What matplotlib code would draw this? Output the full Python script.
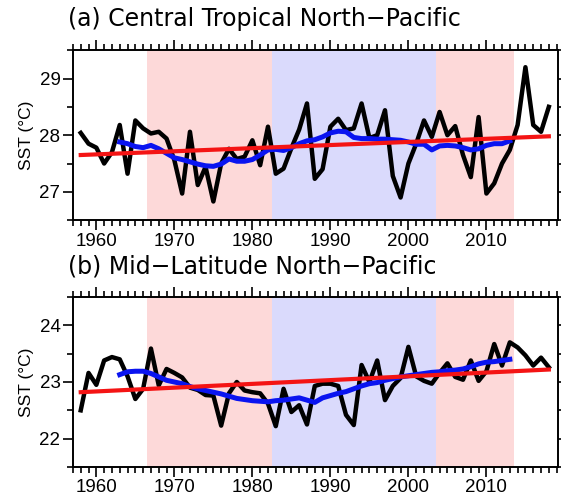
import numpy as np
import matplotlib
matplotlib.use('Agg')
import matplotlib.pyplot as plt
from matplotlib.ticker import MultipleLocator

years = np.arange(1958, 2019)
years_mean = np.arange(1963, 2014)

# (a) central tropical north pacific
sst_a = [28.04, 27.85, 27.78, 27.50, 27.70, 28.18, 27.32, 28.26, 28.12, 28.03,
         28.06, 27.94, 27.56, 26.97, 28.06, 27.12, 27.44, 26.83, 27.50, 27.76,
         27.58, 27.62, 27.91, 27.47, 28.15, 27.32, 27.41, 27.77, 28.10, 28.56,
         27.23, 27.40, 28.15, 28.29, 28.09, 28.12, 28.56, 27.95, 28.00, 28.44,
         27.28, 26.90, 27.50, 27.85, 28.26, 27.97, 28.41, 28.00, 28.16, 27.65,
         27.26, 28.32, 26.97, 27.15, 27.50, 27.74, 28.18, 29.20, 28.18, 28.06,
         28.50]
mean_a = [27.88, 27.85, 27.80, 27.78, 27.82, 27.76, 27.68, 27.60, 27.57, 27.53,
          27.49, 27.46, 27.45, 27.49, 27.58, 27.54, 27.54, 27.57, 27.65, 27.74,
          27.75, 27.73, 27.78, 27.85, 27.90, 27.92, 27.97, 28.04, 28.07, 28.06,
          27.96, 27.94, 27.94, 27.93, 27.93, 27.92, 27.91, 27.88, 27.84, 27.84,
          27.74, 27.81, 27.82, 27.81, 27.78, 27.74, 27.76, 27.82, 27.85, 27.85,
          27.90]
trend_a = [27.65, 27.98]

# (b) mid-latitude north pacific
sst_b = [22.50, 23.16, 22.95, 23.38, 23.44, 23.40, 23.10, 22.70, 22.88, 23.59,
         22.94, 23.23, 23.16, 23.08, 22.90, 22.86, 22.77, 22.76, 22.23, 22.80,
         23.00, 22.85, 22.82, 22.80, 22.62, 22.22, 22.88, 22.47, 22.59, 22.25,
         22.93, 22.97, 22.97, 22.93, 22.42, 22.24, 23.30, 23.00, 23.38, 22.68,
         22.93, 23.07, 23.62, 23.10, 23.02, 22.97, 23.16, 23.33, 23.09, 23.04,
         23.38, 23.02, 23.19, 23.67, 23.29, 23.70, 23.61, 23.47, 23.29, 23.43,
         23.26]
mean_b = [23.13, 23.18, 23.19, 23.19, 23.15, 23.09, 23.03, 23.00, 22.97, 22.92,
          22.88, 22.85, 22.82, 22.79, 22.75, 22.71, 22.69, 22.67, 22.66, 22.65,
          22.67, 22.68, 22.70, 22.72, 22.68, 22.64, 22.72, 22.76, 22.80, 22.83,
          22.88, 22.93, 22.97, 22.99, 23.03, 23.06, 23.09, 23.11, 23.13, 23.15,
          23.17, 23.18, 23.20, 23.21, 23.23, 23.27, 23.32, 23.35, 23.36, 23.38,
          23.40]
trend_b = [22.82, 23.22]

# warm / cool phases
warm_phases = [(1966.5, 1982.5), (2003.5, 2013.5)]
cool_phases = [(1982.5, 2003.5)]

titles = ['(a) Central Tropical North\u2212Pacific', '(b) Mid\u2212Latitude North\u2212Pacific']
ylims = [(26.5, 29.5), (21.5, 24.5)]

fig = plt.figure(figsize=(5.61, 4.97), dpi=100)
ax_a = fig.add_axes([0.130, 0.557, 0.865, 0.342])
ax_b = fig.add_axes([0.130, 0.0604, 0.865, 0.342])

panels = [(ax_a, sst_a, mean_a, trend_a), (ax_b, sst_b, mean_b, trend_b)]
for i, (ax, sst, mean, trend) in enumerate(panels):
    for a, b in warm_phases:
        ax.axvspan(a, b, color='#fdd9d9', lw=0, zorder=0)
    for a, b in cool_phases:
        ax.axvspan(a, b, color='#dadafc', lw=0, zorder=0)
    ax.plot(years, sst, color='black', lw=3.2, zorder=2)
    ax.plot(years_mean, mean, color='#0a14f0', lw=3.6, zorder=3)
    ax.plot([years[0], years[-1]], trend, color='#f41414', lw=3.0, zorder=4)

    ax.set_xlim(1957, 2019.2)
    ax.set_ylim(*ylims[i])
    ax.xaxis.set_major_locator(MultipleLocator(10))
    ax.xaxis.set_minor_locator(MultipleLocator(1))
    ax.yaxis.set_major_locator(MultipleLocator(1))
    ax.yaxis.set_minor_locator(MultipleLocator(0.5))
    ax.tick_params(which='both', direction='out', top=True, right=True,
                   width=1.2, labelsize=13.5, pad=2)
    ax.tick_params(which='major', length=7)
    ax.tick_params(which='minor', length=4)
    for lab in ax.get_xticklabels() + ax.get_yticklabels():
        lab.set_family('Liberation Sans')
    for s in ax.spines.values():
        s.set_linewidth(1.4)
    ax.set_ylabel('SST (\u00b0C)', family='Liberation Sans', fontsize=12.5, labelpad=4)
    ax.text(-0.01, 1.11, titles[i], transform=ax.transAxes, ha='left',
            va='bottom', fontsize=17, family='DejaVu Sans')

fig.savefig('out.png', dpi=100)
